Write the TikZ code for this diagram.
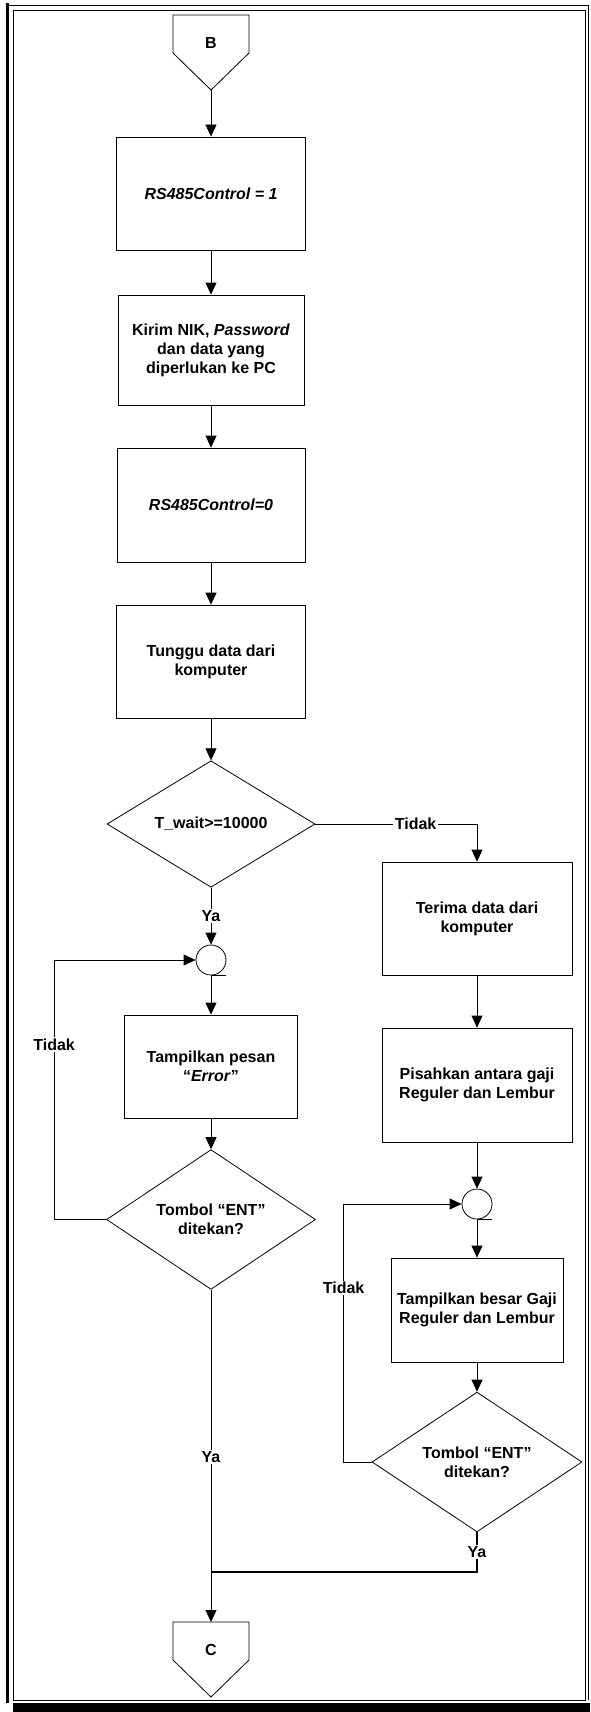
\documentclass[tikz,border=0pt]{standalone}
\usepackage{fontspec}
\setmainfont{Liberation Sans}
\usetikzlibrary{shapes.geometric,arrows.meta,calc}
\begin{document}
\begin{tikzpicture}[x=1pt,y=-1pt,
  every node/.style={font=\fontsize{16}{19}\selectfont\bfseries},
  procbox/.style={draw,line width=0.8pt,rectangle,align=center,inner sep=0pt},
  decision/.style={draw,line width=0.8pt,diamond,align=center,inner sep=0pt},
  junction/.style={draw,line width=0.8pt,circle,minimum size=30pt,inner sep=0pt},
  conntext/.style={inner sep=0pt},
  lbl/.style={fill=white,inner sep=1.5pt},
  wire/.style={line width=0.8pt},
  flow/.style={wire,-{Triangle[length=12pt,width=11pt]}},
  shapeline/.style={line width=0.8pt,line join=miter}
]
\useasboundingbox (0,0) rectangle (590,1712);

% page frame
\draw[line width=1pt] (13,11) rectangle (585,1700);
\draw[line width=1.3pt] (7.5,5.3) -- (588.5,5.3) -- (588.5,1700);
\draw[line width=3.5pt] (7.5,3.5) -- (7.5,1703);
\fill (13,1702.5) rectangle (590,1712);

% off-page connector B
\node[conntext] (B) at (211,43) {B};
\draw[shapeline] (B.center) ++(-38,-28) -- ++(76,0) -- ++(0,38)
  -- ++(-38,37) coordinate (Btip) -- ++(-38,-37) -- cycle;

% left column
\node[procbox,minimum width=189pt,minimum height=113pt] (p1) at (211,193.5) {\itshape RS485Control = 1};
\node[procbox,minimum width=186pt,minimum height=110pt] (p2) at (211,350) {Kirim NIK, \textit{Password}\\dan data yang\\diperlukan ke PC};
\node[procbox,minimum width=188pt,minimum height=114pt] (p3) at (211,505) {\itshape RS485Control=0};
\node[procbox,minimum width=189pt,minimum height=113pt] (p4) at (211,661.5) {Tunggu data dari\\komputer};
\node[decision,minimum width=208pt,minimum height=124pt] (d1) at (211,824) {T\_wait>=10000};
\node[junction] (j1) at (211,960) {};
\node[procbox,minimum width=173pt,minimum height=103pt] (p5) at (211,1066.5) {Tampilkan pesan\\“\textit{Error}”};
\node[decision,minimum width=209pt,minimum height=113pt] (d2) at (211,1219.5) {Tombol “ENT”\\ditekan?};

% right column
\node[procbox,minimum width=190pt,minimum height=113pt] (p6) at (477,918.5) {Terima data dari\\komputer};
\node[procbox,minimum width=190pt,minimum height=114pt] (p7) at (477,1085) {Pisahkan antara gaji\\Reguler dan Lembur};
\node[junction] (j2) at (477,1204) {};
\node[procbox,minimum width=172pt,minimum height=104pt] (p8) at (477,1310) {Tampilkan besar Gaji\\Reguler dan Lembur};
\node[decision,minimum width=210pt,minimum height=110pt] (d3) at (477,1462) {Tombol “ENT”\\ditekan?};

% off-page connector C
\node[conntext] (C) at (211,1650) {C};
\draw[shapeline] (C.center) ++(-38,-28) -- ++(38,0) coordinate (Ctop) -- ++(38,0)
  -- ++(0,38) -- ++(-38,37) -- ++(-38,-37) -- cycle;

% junction ticks
\draw[wire] (j1.south) -- ++(15,0);
\draw[wire] (j2.south) -- ++(15,0);

% main flow
\draw[flow] (Btip) -- (p1);
\draw[flow] (p1) -- (p2);
\draw[flow] (p2) -- (p3);
\draw[flow] (p3) -- (p4);
\draw[flow] (p4) -- (d1);
\draw[flow] (d1.south) -- node[lbl] {Ya} (j1.north);
\draw[flow] (j1) -- (p5);
\draw[flow] (p5) -- (d2);
\draw[flow] (d2.west) -- ++(-52,0) |- node[lbl,pos=0.337] {Tidak} (j1.west);
\draw[flow] (d2.south) -- node[lbl,pos=0.503] {Ya} (Ctop);

% right branch
\draw[flow] (d1.east) -- node[lbl,pos=0.62] {Tidak} (d1.east -| p6.north) -- (p6.north);
\draw[flow] (p6) -- (p7);
\draw[flow] (p7) -- (j2);
\draw[flow] (j2) -- (p8);
\draw[flow] (p8) -- (d3);
\draw[flow] (d3.west) -- ++(-28,0) |- node[lbl,pos=0.337] {Tidak} (j2.west);
\coordinate (m) at (211,1572);
\draw[line width=1.3pt] (d3.south) -- node[lbl] {Ya} (d3.south |- m) -- (m);
\end{tikzpicture}
\end{document}
